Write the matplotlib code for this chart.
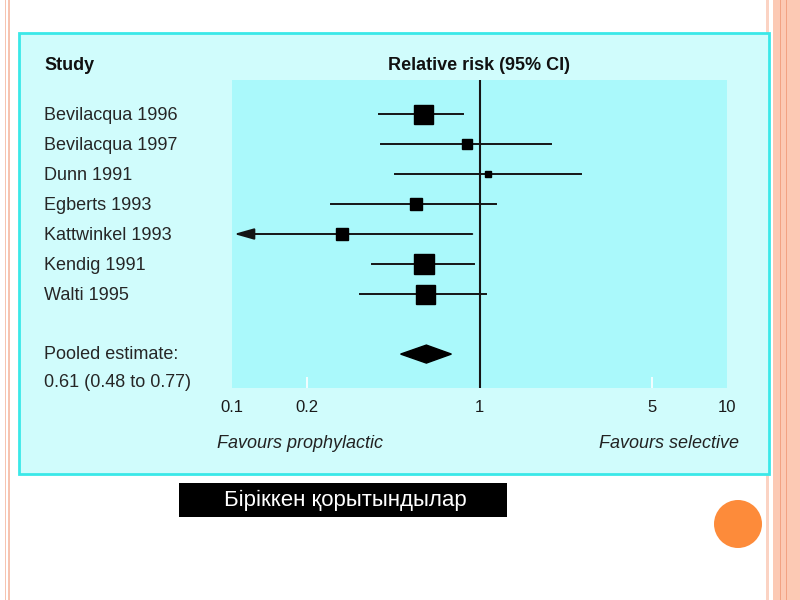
import matplotlib
matplotlib.use('Agg')
import matplotlib.pyplot as plt
from matplotlib.patches import Rectangle, Ellipse
from matplotlib.transforms import blended_transform_factory

# forest plot data
studies = ['Bevilacqua 1996', 'Bevilacqua 1997', 'Dunn 1991', 'Egberts 1993',
           'Kattwinkel 1993', 'Kendig 1991', 'Walti 1995']
rr = [0.59, 0.89, 1.08, 0.555, 0.278, 0.594, 0.604]
ci_low = [0.394, 0.40, 0.456, 0.252, 0.08, 0.369, 0.33]
ci_high = [0.86, 1.95, 2.58, 1.17, 0.935, 0.946, 1.064]
weights = [19, 10, 6, 12, 12, 20, 19]   # relative box size

pooled = 0.61
pooled_low = 0.48
pooled_high = 0.77

ticks = [0.1, 0.2, 1, 5, 10]
tick_labels = ['0.1', '0.2', '1', '5', '10']

caption = 'Біріккен қорытындылар'

W, H = 800, 600
plt.rcParams['font.family'] = ['Liberation Sans', 'DejaVu Sans']


def fx(x):
    return x / W


def fy(y):
    return 1 - y / H


fig = plt.figure(figsize=(8, 6), dpi=100)
fig.patch.set_facecolor('white')

# slide decoration
def band(x0, x1, color, z=-10):
    fig.add_artist(Rectangle((fx(x0), 0), fx(x1 - x0), 1, transform=fig.transFigure,
                             facecolor=color, edgecolor='none', zorder=z))

band(4.5, 6, '#f6c3b0')
band(8, 9.5, '#f6c3b0')
band(766, 769, '#fbd3c3')
band(773, 800, '#fcc9b4')
band(779.5, 781, '#f2a283', -9)
band(785.5, 787, '#f2a283', -9)

# light cyan panel
fig.add_artist(Rectangle((fx(19), fy(474)), fx(750), 441 / H, transform=fig.transFigure,
                         facecolor='#d0fcfc', edgecolor='#3ae8e8', lw=2, zorder=-5))

# forest plot axes
ax = fig.add_axes([fx(232), fy(388), fx(495), 308 / H])
ax.set_facecolor('#aaf9fb')
ax.set_xscale('log')
ax.set_xlim(0.1, 10)
ax.set_ylim(9.13, -1.13)
for s in ax.spines.values():
    s.set_visible(False)
ax.set_xticks(ticks)
ax.set_xticklabels(tick_labels)
ax.minorticks_off()
ax.set_yticks([])
ax.tick_params(axis='x', direction='in', length=8, color='white', width=1.2,
               pad=9, labelsize=12, labelcolor='#1a1a1a')
# the end ticks are not visible in the original
for t in (ax.xaxis.get_major_ticks()[0], ax.xaxis.get_major_ticks()[-1]):
    t.tick1line.set_visible(False)

ink = '#151515'
ax.axvline(1, color=ink, lw=1.5, zorder=2)

xmin = ax.get_xlim()[0]
for i in range(len(studies)):
    if ci_low[i] < xmin:
        ax.annotate('', xy=(xmin * 1.02, i), xytext=(ci_high[i], i),
                    arrowprops=dict(arrowstyle='-|>,head_length=0.6,head_width=0.17',
                                    mutation_scale=20, color=ink, lw=1.4,
                                    shrinkA=0, shrinkB=0), zorder=3)
    else:
        ax.plot([ci_low[i], ci_high[i]], [i, i], color=ink, lw=1.4, zorder=3)
    ax.plot(rr[i], i, marker='s', markersize=weights[i] * 0.72,
            color='black', zorder=4)

yp = len(studies) + 1
ax.fill([pooled_low, pooled, pooled_high, pooled],
        [yp, yp - 0.3, yp, yp + 0.3], color='black', zorder=4)

# labels on the left
txt = '#262626'
trans = blended_transform_factory(fig.transFigure, ax.transData)
for i, name in enumerate(studies):
    ax.text(fx(44), i + 0.05, name, transform=trans, ha='left', va='center',
            fontsize=13, color=txt, clip_on=False)
ax.text(fx(44), yp, 'Pooled estimate:', transform=trans, ha='left', va='center',
        fontsize=13, color=txt, clip_on=False)
ax.text(fx(44), yp + 0.95,
        '%.2f (%.2f to %.2f)' % (pooled, pooled_low, pooled_high),
        transform=trans, ha='left', va='center', fontsize=13, color=txt,
        clip_on=False)

# headers
fig.text(fx(44), fy(66), 'Study', ha='left', va='center', fontsize=13,
         fontweight='bold', color='#111')
htrans = blended_transform_factory(ax.transData, fig.transFigure)
ax.text(1, fy(66), 'Relative risk (95% CI)', transform=htrans, ha='center',
        va='center', fontsize=13, fontweight='bold', color='#111')

fig.text(fx(217), fy(444), 'Favours prophylactic', ha='left', va='center',
         fontsize=13, style='italic', color='#222')
fig.text(fx(739), fy(444), 'Favours selective', ha='right', va='center',
         fontsize=13, style='italic', color='#222')

# caption box
fig.add_artist(Rectangle((fx(179), fy(517)), fx(328), 34 / H, transform=fig.transFigure,
                         facecolor='black', edgecolor='none', zorder=1))
fig.text(fx(345), fy(500), caption, ha='center', va='center', fontsize=16,
         color='white', zorder=2)

# orange dot
fig.add_artist(Ellipse((fx(738), fy(524)), fx(48), 48 / H, transform=fig.transFigure,
                       facecolor='#fd8b3a', edgecolor='none', zorder=1))

fig.savefig('out.png', dpi=100)
